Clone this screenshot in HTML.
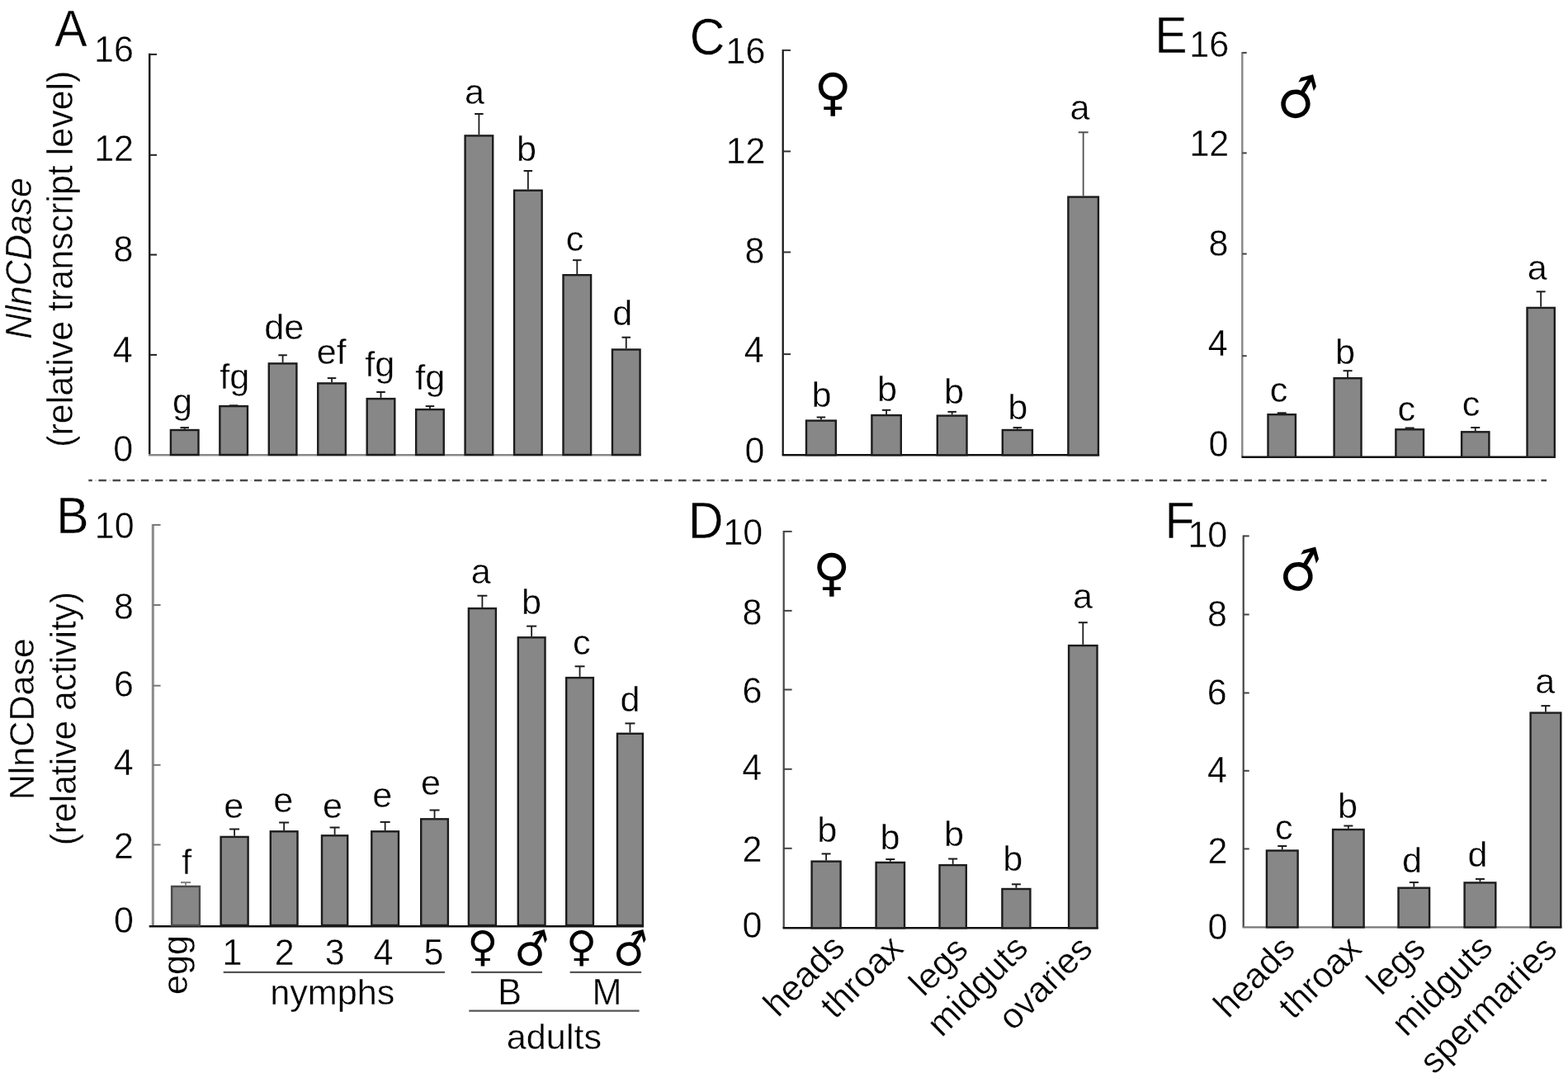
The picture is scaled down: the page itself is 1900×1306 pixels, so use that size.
<!DOCTYPE html>
<html><head><meta charset="utf-8"><title>NlnCDase expression and activity</title>
<style>
html,body{margin:0;padding:0;background:#fff;width:1900px;height:1306px;overflow:hidden}
svg{display:block}
#fig{width:1900px;height:1306px}
text{font-kerning:none;stroke:#fff;stroke-width:0.4px;stroke-linejoin:round}
</style></head><body>
<div id="fig"><svg width="1900" height="1306" viewBox="0 0 1900 1306">
<rect width="1900" height="1306" fill="#fff"/>
<line x1="181.2" y1="64.8" x2="181.2" y2="551.5" stroke="#111" stroke-width="2.4"/>
<line x1="181.2" y1="65.9" x2="190" y2="65.9" stroke="#222" stroke-width="2"/>
<line x1="181.2" y1="187.8" x2="190" y2="187.8" stroke="#222" stroke-width="2"/>
<line x1="181.2" y1="308.6" x2="190" y2="308.6" stroke="#222" stroke-width="2"/>
<line x1="181.2" y1="429.9" x2="190" y2="429.9" stroke="#222" stroke-width="2"/>
<line x1="180" y1="551.2" x2="777" y2="551.2" stroke="#888" stroke-width="2.4"/>
<rect x="206.90" y="521.00" width="33.60" height="30.00" fill="#878787" stroke="#1c1c1c" stroke-width="2.4"/>
<line x1="223.7" y1="519.8" x2="223.7" y2="518.1" stroke="#1c1c1c" stroke-width="1.8"/>
<line x1="218.45" y1="518.1" x2="228.95" y2="518.1" stroke="#1c1c1c" stroke-width="2"/>
<rect x="266.35" y="492.10" width="33.60" height="58.90" fill="#878787" stroke="#1c1c1c" stroke-width="2.4"/>
<line x1="283.15" y1="490.9" x2="283.15" y2="491.3" stroke="#1c1c1c" stroke-width="1.8"/>
<line x1="277.9" y1="491.3" x2="288.4" y2="491.3" stroke="#1c1c1c" stroke-width="2"/>
<rect x="325.80" y="440.40" width="33.60" height="110.60" fill="#878787" stroke="#1c1c1c" stroke-width="2.4"/>
<line x1="342.6" y1="439.2" x2="342.6" y2="430.3" stroke="#1c1c1c" stroke-width="1.8"/>
<line x1="337.35" y1="430.3" x2="347.85" y2="430.3" stroke="#1c1c1c" stroke-width="2"/>
<rect x="385.25" y="464.40" width="33.60" height="86.60" fill="#878787" stroke="#1c1c1c" stroke-width="2.4"/>
<line x1="402.05" y1="463.2" x2="402.05" y2="458.1" stroke="#1c1c1c" stroke-width="1.8"/>
<line x1="396.8" y1="458.1" x2="407.3" y2="458.1" stroke="#1c1c1c" stroke-width="2"/>
<rect x="444.70" y="483.10" width="33.60" height="67.90" fill="#878787" stroke="#1c1c1c" stroke-width="2.4"/>
<line x1="461.5" y1="481.9" x2="461.5" y2="475" stroke="#1c1c1c" stroke-width="1.8"/>
<line x1="456.25" y1="475" x2="466.75" y2="475" stroke="#1c1c1c" stroke-width="2"/>
<rect x="504.15" y="496.10" width="33.60" height="54.90" fill="#878787" stroke="#1c1c1c" stroke-width="2.4"/>
<line x1="520.95" y1="494.9" x2="520.95" y2="492.1" stroke="#1c1c1c" stroke-width="1.8"/>
<line x1="515.7" y1="492.1" x2="526.2" y2="492.1" stroke="#1c1c1c" stroke-width="2"/>
<rect x="563.60" y="164.40" width="33.60" height="386.60" fill="#878787" stroke="#1c1c1c" stroke-width="2.4"/>
<line x1="580.4" y1="163.2" x2="580.4" y2="138" stroke="#1c1c1c" stroke-width="1.8"/>
<line x1="575.15" y1="138" x2="585.65" y2="138" stroke="#1c1c1c" stroke-width="2"/>
<rect x="623.05" y="230.70" width="33.60" height="320.30" fill="#878787" stroke="#1c1c1c" stroke-width="2.4"/>
<line x1="639.85" y1="229.5" x2="639.85" y2="207" stroke="#1c1c1c" stroke-width="1.8"/>
<line x1="634.6" y1="207" x2="645.1" y2="207" stroke="#1c1c1c" stroke-width="2"/>
<rect x="682.50" y="333.20" width="33.60" height="217.80" fill="#878787" stroke="#1c1c1c" stroke-width="2.4"/>
<line x1="699.3" y1="332" x2="699.3" y2="315.2" stroke="#1c1c1c" stroke-width="1.8"/>
<line x1="694.05" y1="315.2" x2="704.55" y2="315.2" stroke="#1c1c1c" stroke-width="2"/>
<rect x="741.95" y="423.50" width="33.60" height="127.50" fill="#878787" stroke="#1c1c1c" stroke-width="2.4"/>
<line x1="758.75" y1="422.3" x2="758.75" y2="408.7" stroke="#1c1c1c" stroke-width="1.8"/>
<line x1="753.5" y1="408.7" x2="764" y2="408.7" stroke="#1c1c1c" stroke-width="2"/>
<text transform="translate(114.04,74.99) scale(1,1.05)" font-family="'Liberation Sans', Arial, sans-serif" font-size="43" fill="#000">16</text>
<text transform="translate(114.18,195.36) scale(1,1.05)" font-family="'Liberation Sans', Arial, sans-serif" font-size="43" fill="#000">12</text>
<text transform="translate(137.44,316.79) scale(1,1.05)" font-family="'Liberation Sans', Arial, sans-serif" font-size="43" fill="#000">8</text>
<text transform="translate(136.83,439.23) scale(1,1.05)" font-family="'Liberation Sans', Arial, sans-serif" font-size="43" fill="#000">4</text>
<text transform="translate(137.19,559.09) scale(1,1.05)" font-family="'Liberation Sans', Arial, sans-serif" font-size="43" fill="#000">0</text>
<text transform="translate(66.27,55.86) scale(1,1.065)" font-family="'Liberation Sans', Arial, sans-serif" font-size="59" fill="#000">A</text>
<text transform="translate(37.83,410.84) rotate(-90) scale(1,1.03)" font-family="'Liberation Sans', Arial, sans-serif" font-size="43" font-style="italic" fill="#000">NlnCDase</text>
<text transform="translate(88.30,541.76) rotate(-90) scale(1,1.03)" font-family="'Liberation Sans', Arial, sans-serif" font-size="43" fill="#000">(relative transcript level)</text>
<text transform="translate(209.12,501.01)" font-family="'Liberation Sans', Arial, sans-serif" font-size="43.2" fill="#000">g</text>
<text transform="translate(266.37,471.45)" font-family="'Liberation Sans', Arial, sans-serif" font-size="43.2" fill="#000">fg</text>
<text transform="translate(320.33,411.19)" font-family="'Liberation Sans', Arial, sans-serif" font-size="43.2" fill="#000">de</text>
<text transform="translate(383.79,441.22)" font-family="'Liberation Sans', Arial, sans-serif" font-size="43.2" fill="#000">ef</text>
<text transform="translate(442.27,455.80)" font-family="'Liberation Sans', Arial, sans-serif" font-size="43.2" fill="#000">fg</text>
<text transform="translate(503.27,471.90)" font-family="'Liberation Sans', Arial, sans-serif" font-size="43.2" fill="#000">fg</text>
<text transform="translate(563.07,125.56)" font-family="'Liberation Sans', Arial, sans-serif" font-size="43.2" fill="#000">a</text>
<text transform="translate(625.90,194.79)" font-family="'Liberation Sans', Arial, sans-serif" font-size="43.2" fill="#000">b</text>
<text transform="translate(685.75,303.66)" font-family="'Liberation Sans', Arial, sans-serif" font-size="43.2" fill="#000">c</text>
<text transform="translate(742.32,394.44)" font-family="'Liberation Sans', Arial, sans-serif" font-size="43.2" fill="#000">d</text>
<line x1="185.3" y1="634.9" x2="185.3" y2="1121" stroke="#8a8a8a" stroke-width="3"/>
<line x1="185.3" y1="635.9" x2="194.6" y2="635.9" stroke="#777" stroke-width="2"/>
<line x1="185.3" y1="733" x2="194.6" y2="733" stroke="#777" stroke-width="2"/>
<line x1="185.3" y1="830.7" x2="194.6" y2="830.7" stroke="#777" stroke-width="2"/>
<line x1="185.3" y1="926.8" x2="194.6" y2="926.8" stroke="#777" stroke-width="2"/>
<line x1="185.3" y1="1023.4" x2="194.6" y2="1023.4" stroke="#777" stroke-width="2"/>
<line x1="180.7" y1="1122.3" x2="780.1" y2="1122.3" stroke="#111" stroke-width="2.4"/>
<rect x="208.10" y="1073.90" width="33.80" height="47.10" fill="#878787" stroke="#4a4a4a" stroke-width="2.4"/>
<line x1="225" y1="1072.7" x2="225" y2="1069.1" stroke="#808080" stroke-width="1.8"/>
<line x1="219" y1="1069.1" x2="231" y2="1069.1" stroke="#808080" stroke-width="2"/>
<rect x="267.60" y="1013.90" width="33.00" height="107.10" fill="#878787" stroke="#1c1c1c" stroke-width="2.4"/>
<line x1="284.1" y1="1012.7" x2="284.1" y2="1004.5" stroke="#1c1c1c" stroke-width="1.8"/>
<line x1="278.1" y1="1004.5" x2="290.1" y2="1004.5" stroke="#1c1c1c" stroke-width="2"/>
<rect x="327.80" y="1007.30" width="32.70" height="113.70" fill="#878787" stroke="#1c1c1c" stroke-width="2.4"/>
<line x1="344.15" y1="1006.1" x2="344.15" y2="996.5" stroke="#1c1c1c" stroke-width="1.8"/>
<line x1="338.15" y1="996.5" x2="350.15" y2="996.5" stroke="#1c1c1c" stroke-width="2"/>
<rect x="390.00" y="1012.30" width="31.20" height="108.70" fill="#878787" stroke="#1c1c1c" stroke-width="2.4"/>
<line x1="405.6" y1="1011.1" x2="405.6" y2="1002.5" stroke="#1c1c1c" stroke-width="1.8"/>
<line x1="399.6" y1="1002.5" x2="411.6" y2="1002.5" stroke="#1c1c1c" stroke-width="2"/>
<rect x="450.30" y="1007.30" width="32.70" height="113.70" fill="#878787" stroke="#1c1c1c" stroke-width="2.4"/>
<line x1="466.65" y1="1006.1" x2="466.65" y2="995.9" stroke="#1c1c1c" stroke-width="1.8"/>
<line x1="460.65" y1="995.9" x2="472.65" y2="995.9" stroke="#1c1c1c" stroke-width="2"/>
<rect x="510.20" y="992.30" width="32.70" height="128.70" fill="#878787" stroke="#1c1c1c" stroke-width="2.4"/>
<line x1="526.55" y1="991.1" x2="526.55" y2="981.5" stroke="#1c1c1c" stroke-width="1.8"/>
<line x1="520.55" y1="981.5" x2="532.55" y2="981.5" stroke="#1c1c1c" stroke-width="2"/>
<rect x="567.90" y="737.10" width="33.00" height="383.90" fill="#878787" stroke="#1c1c1c" stroke-width="2.4"/>
<line x1="584.4" y1="735.9" x2="584.4" y2="721.7" stroke="#1c1c1c" stroke-width="1.8"/>
<line x1="578.4" y1="721.7" x2="590.4" y2="721.7" stroke="#1c1c1c" stroke-width="2"/>
<rect x="627.80" y="772.30" width="32.70" height="348.70" fill="#878787" stroke="#1c1c1c" stroke-width="2.4"/>
<line x1="644.15" y1="771.1" x2="644.15" y2="758.6" stroke="#1c1c1c" stroke-width="1.8"/>
<line x1="638.15" y1="758.6" x2="650.15" y2="758.6" stroke="#1c1c1c" stroke-width="2"/>
<rect x="686.20" y="821.10" width="32.70" height="299.90" fill="#878787" stroke="#1c1c1c" stroke-width="2.4"/>
<line x1="702.55" y1="819.9" x2="702.55" y2="807.3" stroke="#1c1c1c" stroke-width="1.8"/>
<line x1="696.55" y1="807.3" x2="708.55" y2="807.3" stroke="#1c1c1c" stroke-width="2"/>
<rect x="748.00" y="888.80" width="30.90" height="232.20" fill="#878787" stroke="#1c1c1c" stroke-width="2.4"/>
<line x1="763.45" y1="887.6" x2="763.45" y2="876.4" stroke="#1c1c1c" stroke-width="1.8"/>
<line x1="757.45" y1="876.4" x2="769.45" y2="876.4" stroke="#1c1c1c" stroke-width="2"/>
<text transform="translate(114.84,651.59) scale(1,1.05)" font-family="'Liberation Sans', Arial, sans-serif" font-size="43" fill="#000">10</text>
<text transform="translate(138.04,750.19) scale(1,1.05)" font-family="'Liberation Sans', Arial, sans-serif" font-size="43" fill="#000">8</text>
<text transform="translate(137.90,843.89) scale(1,1.05)" font-family="'Liberation Sans', Arial, sans-serif" font-size="43" fill="#000">6</text>
<text transform="translate(137.68,939.18) scale(1,1.05)" font-family="'Liberation Sans', Arial, sans-serif" font-size="43" fill="#000">4</text>
<text transform="translate(138.04,1040.21) scale(1,1.05)" font-family="'Liberation Sans', Arial, sans-serif" font-size="43" fill="#000">2</text>
<text transform="translate(138.04,1129.89) scale(1,1.05)" font-family="'Liberation Sans', Arial, sans-serif" font-size="43" fill="#000">0</text>
<text transform="translate(68.31,645.56) scale(1,1.065)" font-family="'Liberation Sans', Arial, sans-serif" font-size="59" fill="#000">B</text>
<text transform="translate(40.90,969.32) rotate(-90)" font-family="'Liberation Sans', Arial, sans-serif" font-size="43.1" fill="#000">NlnCDase</text>
<text transform="translate(91.94,1024.36) rotate(-90) scale(1,1.025)" font-family="'Liberation Sans', Arial, sans-serif" font-size="42.6" fill="#000">(relative activity)</text>
<text transform="translate(220.16,1059.33)" font-family="'Liberation Sans', Arial, sans-serif" font-size="43.2" fill="#000">f</text>
<text transform="translate(271.23,990.61)" font-family="'Liberation Sans', Arial, sans-serif" font-size="43.2" fill="#000">e</text>
<text transform="translate(331.23,984.11)" font-family="'Liberation Sans', Arial, sans-serif" font-size="43.2" fill="#000">e</text>
<text transform="translate(391.03,990.61)" font-family="'Liberation Sans', Arial, sans-serif" font-size="43.2" fill="#000">e</text>
<text transform="translate(451.23,977.61)" font-family="'Liberation Sans', Arial, sans-serif" font-size="43.2" fill="#000">e</text>
<text transform="translate(510.03,962.61)" font-family="'Liberation Sans', Arial, sans-serif" font-size="43.2" fill="#000">e</text>
<text transform="translate(570.67,707.26)" font-family="'Liberation Sans', Arial, sans-serif" font-size="43.2" fill="#000">a</text>
<text transform="translate(632.05,743.84)" font-family="'Liberation Sans', Arial, sans-serif" font-size="43.2" fill="#000">b</text>
<text transform="translate(694.10,793.36)" font-family="'Liberation Sans', Arial, sans-serif" font-size="43.2" fill="#000">c</text>
<text transform="translate(751.62,861.89)" font-family="'Liberation Sans', Arial, sans-serif" font-size="43.2" fill="#000">d</text>
<text transform="translate(226.89,1205.06) rotate(-90)" font-family="'Liberation Sans', Arial, sans-serif" font-size="43.2" fill="#000">egg</text>
<text transform="translate(269.40,1168.88) scale(1,1.05)" font-family="'Liberation Sans', Arial, sans-serif" font-size="43" fill="#000">1</text>
<text transform="translate(332.84,1169.11) scale(1,1.05)" font-family="'Liberation Sans', Arial, sans-serif" font-size="43" fill="#000">2</text>
<text transform="translate(393.82,1168.89) scale(1,1.05)" font-family="'Liberation Sans', Arial, sans-serif" font-size="43" fill="#000">3</text>
<text transform="translate(452.58,1168.88) scale(1,1.05)" font-family="'Liberation Sans', Arial, sans-serif" font-size="43" fill="#000">4</text>
<text transform="translate(513.48,1168.66) scale(1,1.05)" font-family="'Liberation Sans', Arial, sans-serif" font-size="43" fill="#000">5</text>
<text transform="translate(566.21,1163.83)" font-family="'DejaVu Sans', sans-serif" font-size="50.7624" style="stroke:none" fill="#000">♀</text>
<text transform="translate(686.11,1163.83)" font-family="'DejaVu Sans', sans-serif" font-size="50.7624" style="stroke:none" fill="#000">♀</text>
<text transform="translate(627.25,1173.81) rotate(-15)" font-family="'DejaVu Sans', sans-serif" font-size="52.506" style="stroke:none" fill="#000">♂</text>
<text transform="translate(747.10,1173.81) rotate(-15)" font-family="'DejaVu Sans', sans-serif" font-size="52.506" style="stroke:none" fill="#000">♂</text>
<line x1="270.7" y1="1177.8" x2="539" y2="1177.8" stroke="#555" stroke-width="2.2"/>
<line x1="571" y1="1177.8" x2="657" y2="1177.8" stroke="#555" stroke-width="2.2"/>
<line x1="690.7" y1="1177.8" x2="777.2" y2="1177.8" stroke="#555" stroke-width="2.2"/>
<line x1="568.3" y1="1224.7" x2="774.6" y2="1224.7" stroke="#555" stroke-width="2.2"/>
<text transform="translate(327.21,1217.42)" font-family="'Liberation Sans', Arial, sans-serif" font-size="43.2" fill="#000">nymphs</text>
<text transform="translate(603.36,1217.10) scale(1,1.04)" font-family="'Liberation Sans', Arial, sans-serif" font-size="43.2" fill="#000">B</text>
<text transform="translate(717.51,1217.10) scale(1,1.04)" font-family="'Liberation Sans', Arial, sans-serif" font-size="43.2" fill="#000">M</text>
<text transform="translate(613.82,1270.74)" font-family="'Liberation Sans', Arial, sans-serif" font-size="43.2" fill="#000">adults</text>
<line x1="948.7" y1="59.9" x2="948.7" y2="551.5" stroke="#111" stroke-width="2.2"/>
<line x1="948.7" y1="60.9" x2="958" y2="60.9" stroke="#333" stroke-width="2"/>
<line x1="948.7" y1="183.4" x2="958" y2="183.4" stroke="#333" stroke-width="2"/>
<line x1="948.7" y1="305.5" x2="958" y2="305.5" stroke="#333" stroke-width="2"/>
<line x1="948.7" y1="429.1" x2="958" y2="429.1" stroke="#333" stroke-width="2"/>
<line x1="947.7" y1="551.3" x2="1332.1" y2="551.3" stroke="#111" stroke-width="2.4"/>
<rect x="977.00" y="509.60" width="35.80" height="41.70" fill="#878787" stroke="#1c1c1c" stroke-width="2.4"/>
<line x1="994.9" y1="508.4" x2="994.9" y2="505.5" stroke="#1c1c1c" stroke-width="1.8"/>
<line x1="989.65" y1="505.5" x2="1000.15" y2="505.5" stroke="#1c1c1c" stroke-width="2"/>
<rect x="1056.40" y="503.10" width="35.40" height="48.20" fill="#878787" stroke="#1c1c1c" stroke-width="2.4"/>
<line x1="1074.1" y1="501.9" x2="1074.1" y2="496.8" stroke="#1c1c1c" stroke-width="1.8"/>
<line x1="1068.85" y1="496.8" x2="1079.35" y2="496.8" stroke="#1c1c1c" stroke-width="2"/>
<rect x="1135.80" y="503.60" width="35.70" height="47.70" fill="#878787" stroke="#1c1c1c" stroke-width="2.4"/>
<line x1="1153.65" y1="502.4" x2="1153.65" y2="498.9" stroke="#1c1c1c" stroke-width="1.8"/>
<line x1="1148.4" y1="498.9" x2="1158.9" y2="498.9" stroke="#1c1c1c" stroke-width="2"/>
<rect x="1214.80" y="521.00" width="36.10" height="30.30" fill="#878787" stroke="#1c1c1c" stroke-width="2.4"/>
<line x1="1232.85" y1="519.8" x2="1232.85" y2="518.1" stroke="#1c1c1c" stroke-width="1.8"/>
<line x1="1227.6" y1="518.1" x2="1238.1" y2="518.1" stroke="#1c1c1c" stroke-width="2"/>
<rect x="1294.40" y="238.60" width="36.50" height="312.70" fill="#878787" stroke="#1c1c1c" stroke-width="2.4"/>
<line x1="1312.65" y1="237.4" x2="1312.65" y2="160.3" stroke="#505050" stroke-width="1.8"/>
<line x1="1306.65" y1="160.3" x2="1318.65" y2="160.3" stroke="#505050" stroke-width="2"/>
<text transform="translate(879.54,76.99) scale(1,1.05)" font-family="'Liberation Sans', Arial, sans-serif" font-size="43" fill="#000">16</text>
<text transform="translate(879.68,197.66) scale(1,1.05)" font-family="'Liberation Sans', Arial, sans-serif" font-size="43" fill="#000">12</text>
<text transform="translate(902.54,318.79) scale(1,1.05)" font-family="'Liberation Sans', Arial, sans-serif" font-size="43" fill="#000">8</text>
<text transform="translate(901.83,439.23) scale(1,1.05)" font-family="'Liberation Sans', Arial, sans-serif" font-size="43" fill="#000">4</text>
<text transform="translate(902.39,561.44) scale(1,1.05)" font-family="'Liberation Sans', Arial, sans-serif" font-size="43" fill="#000">0</text>
<text transform="translate(835.87,66.33) scale(1,1.065)" font-family="'Liberation Sans', Arial, sans-serif" font-size="59" fill="#000">C</text>
<text transform="translate(986.56,133.32)" font-family="'DejaVu Sans', sans-serif" font-size="61.9651" font-weight="bold" style="stroke:none" fill="#000">♀</text>
<text transform="translate(983.40,492.94)" font-family="'Liberation Sans', Arial, sans-serif" font-size="43.2" fill="#000">b</text>
<text transform="translate(1063.05,486.34)" font-family="'Liberation Sans', Arial, sans-serif" font-size="43.2" fill="#000">b</text>
<text transform="translate(1143.95,488.94)" font-family="'Liberation Sans', Arial, sans-serif" font-size="43.2" fill="#000">b</text>
<text transform="translate(1221.20,508.14)" font-family="'Liberation Sans', Arial, sans-serif" font-size="43.2" fill="#000">b</text>
<text transform="translate(1296.62,144.66)" font-family="'Liberation Sans', Arial, sans-serif" font-size="43.2" fill="#000">a</text>
<line x1="949.7" y1="642.9" x2="949.7" y2="1124" stroke="#444" stroke-width="2.2"/>
<line x1="949.7" y1="643.9" x2="959.6" y2="643.9" stroke="#444" stroke-width="2"/>
<line x1="949.7" y1="739.9" x2="959.6" y2="739.9" stroke="#444" stroke-width="2"/>
<line x1="949.7" y1="835.5" x2="959.6" y2="835.5" stroke="#444" stroke-width="2"/>
<line x1="949.7" y1="931.8" x2="959.6" y2="931.8" stroke="#444" stroke-width="2"/>
<line x1="949.7" y1="1027.8" x2="959.6" y2="1027.8" stroke="#444" stroke-width="2"/>
<line x1="948.5" y1="1124.3" x2="1330.7" y2="1124.3" stroke="#111" stroke-width="2.4"/>
<rect x="983.60" y="1043.60" width="35.00" height="80.70" fill="#878787" stroke="#1c1c1c" stroke-width="2.4"/>
<line x1="1001.1" y1="1042.4" x2="1001.1" y2="1034.4" stroke="#1c1c1c" stroke-width="1.8"/>
<line x1="995.6" y1="1034.4" x2="1006.6" y2="1034.4" stroke="#1c1c1c" stroke-width="2"/>
<rect x="1061.60" y="1044.90" width="34.40" height="79.40" fill="#878787" stroke="#1c1c1c" stroke-width="2.4"/>
<line x1="1078.8" y1="1043.7" x2="1078.8" y2="1041" stroke="#1c1c1c" stroke-width="1.8"/>
<line x1="1073.3" y1="1041" x2="1084.3" y2="1041" stroke="#1c1c1c" stroke-width="2"/>
<rect x="1138.50" y="1048.10" width="32.30" height="76.20" fill="#878787" stroke="#1c1c1c" stroke-width="2.4"/>
<line x1="1154.65" y1="1046.9" x2="1154.65" y2="1040.5" stroke="#1c1c1c" stroke-width="1.8"/>
<line x1="1149.15" y1="1040.5" x2="1160.15" y2="1040.5" stroke="#1c1c1c" stroke-width="2"/>
<rect x="1214.40" y="1077.00" width="34.00" height="47.30" fill="#878787" stroke="#1c1c1c" stroke-width="2.4"/>
<line x1="1231.4" y1="1075.8" x2="1231.4" y2="1071.3" stroke="#1c1c1c" stroke-width="1.8"/>
<line x1="1225.9" y1="1071.3" x2="1236.9" y2="1071.3" stroke="#1c1c1c" stroke-width="2"/>
<rect x="1295.10" y="782.10" width="34.40" height="342.20" fill="#878787" stroke="#1c1c1c" stroke-width="2.4"/>
<line x1="1312.3" y1="780.9" x2="1312.3" y2="754.2" stroke="#1c1c1c" stroke-width="1.8"/>
<line x1="1306.8" y1="754.2" x2="1317.8" y2="754.2" stroke="#1c1c1c" stroke-width="2"/>
<text transform="translate(876.39,659.89) scale(1,1.05)" font-family="'Liberation Sans', Arial, sans-serif" font-size="43" fill="#000">10</text>
<text transform="translate(899.59,756.99) scale(1,1.05)" font-family="'Liberation Sans', Arial, sans-serif" font-size="43" fill="#000">8</text>
<text transform="translate(899.45,851.64) scale(1,1.05)" font-family="'Liberation Sans', Arial, sans-serif" font-size="43" fill="#000">6</text>
<text transform="translate(899.23,945.13) scale(1,1.05)" font-family="'Liberation Sans', Arial, sans-serif" font-size="43" fill="#000">4</text>
<text transform="translate(899.39,1044.16) scale(1,1.05)" font-family="'Liberation Sans', Arial, sans-serif" font-size="43" fill="#000">2</text>
<text transform="translate(899.59,1136.09) scale(1,1.05)" font-family="'Liberation Sans', Arial, sans-serif" font-size="43" fill="#000">0</text>
<text transform="translate(834.09,651.96) scale(1,1.065)" font-family="'Liberation Sans', Arial, sans-serif" font-size="59" fill="#000">D</text>
<text transform="translate(984.95,714.74)" font-family="'DejaVu Sans', sans-serif" font-size="61.8484" font-weight="bold" style="stroke:none" fill="#000">♀</text>
<text transform="translate(990.25,1019.89)" font-family="'Liberation Sans', Arial, sans-serif" font-size="43.2" fill="#000">b</text>
<text transform="translate(1066.60,1029.09)" font-family="'Liberation Sans', Arial, sans-serif" font-size="43.2" fill="#000">b</text>
<text transform="translate(1143.95,1024.74)" font-family="'Liberation Sans', Arial, sans-serif" font-size="43.2" fill="#000">b</text>
<text transform="translate(1215.25,1054.74)" font-family="'Liberation Sans', Arial, sans-serif" font-size="43.2" fill="#000">b</text>
<text transform="translate(1300.12,737.46)" font-family="'Liberation Sans', Arial, sans-serif" font-size="43.2" fill="#000">a</text>
<text transform="translate(942.83,1233.80) rotate(-45)" font-family="'Liberation Sans', Arial, sans-serif" font-size="43.2" fill="#000">heads</text>
<text transform="translate(1011.78,1235.88) rotate(-45)" font-family="'Liberation Sans', Arial, sans-serif" font-size="43.2" fill="#000">throax</text>
<text transform="translate(1119.36,1208.77) rotate(-45)" font-family="'Liberation Sans', Arial, sans-serif" font-size="43.2" fill="#000">legs</text>
<text transform="translate(1141.12,1257.81) rotate(-45)" font-family="'Liberation Sans', Arial, sans-serif" font-size="43.2" fill="#000">midguts</text>
<text transform="translate(1227.49,1250.17) rotate(-45)" font-family="'Liberation Sans', Arial, sans-serif" font-size="43.2" fill="#000">ovaries</text>
<line x1="1505.3" y1="62.9" x2="1505.3" y2="553.8" stroke="#888" stroke-width="2.4"/>
<line x1="1505.3" y1="63.9" x2="1510.7" y2="63.9" stroke="#444" stroke-width="2"/>
<line x1="1505.3" y1="185.4" x2="1510.7" y2="185.4" stroke="#444" stroke-width="2"/>
<line x1="1505.3" y1="307.6" x2="1510.7" y2="307.6" stroke="#444" stroke-width="2"/>
<line x1="1505.3" y1="431.2" x2="1510.7" y2="431.2" stroke="#444" stroke-width="2"/>
<line x1="1504.5" y1="553.8" x2="1885" y2="553.8" stroke="#111" stroke-width="2.4"/>
<rect x="1536.50" y="502.20" width="33.40" height="51.60" fill="#878787" stroke="#1c1c1c" stroke-width="2.4"/>
<line x1="1553.2" y1="501" x2="1553.2" y2="500.3" stroke="#1c1c1c" stroke-width="1.8"/>
<line x1="1547.7" y1="500.3" x2="1558.7" y2="500.3" stroke="#1c1c1c" stroke-width="2"/>
<rect x="1616.60" y="458.20" width="32.90" height="95.60" fill="#878787" stroke="#1c1c1c" stroke-width="2.4"/>
<line x1="1633.05" y1="457" x2="1633.05" y2="449.2" stroke="#1c1c1c" stroke-width="1.8"/>
<line x1="1627.55" y1="449.2" x2="1638.55" y2="449.2" stroke="#1c1c1c" stroke-width="2"/>
<rect x="1691.40" y="520.30" width="33.60" height="33.50" fill="#878787" stroke="#1c1c1c" stroke-width="2.4"/>
<line x1="1708.2" y1="519.1" x2="1708.2" y2="518.5" stroke="#1c1c1c" stroke-width="1.8"/>
<line x1="1702.7" y1="518.5" x2="1713.7" y2="518.5" stroke="#1c1c1c" stroke-width="2"/>
<rect x="1771.10" y="523.30" width="33.30" height="30.50" fill="#878787" stroke="#1c1c1c" stroke-width="2.4"/>
<line x1="1787.75" y1="522.1" x2="1787.75" y2="518" stroke="#1c1c1c" stroke-width="1.8"/>
<line x1="1782.25" y1="518" x2="1793.25" y2="518" stroke="#1c1c1c" stroke-width="2"/>
<rect x="1850.50" y="372.90" width="33.30" height="180.90" fill="#878787" stroke="#1c1c1c" stroke-width="2.4"/>
<line x1="1867.15" y1="371.7" x2="1867.15" y2="353.3" stroke="#1c1c1c" stroke-width="1.8"/>
<line x1="1861.65" y1="353.3" x2="1872.65" y2="353.3" stroke="#1c1c1c" stroke-width="2"/>
<text transform="translate(1441.24,68.74) scale(1,1.05)" font-family="'Liberation Sans', Arial, sans-serif" font-size="43" fill="#000">16</text>
<text transform="translate(1441.38,189.01) scale(1,1.05)" font-family="'Liberation Sans', Arial, sans-serif" font-size="43" fill="#000">12</text>
<text transform="translate(1464.49,310.24) scale(1,1.05)" font-family="'Liberation Sans', Arial, sans-serif" font-size="43" fill="#000">8</text>
<text transform="translate(1463.78,430.83) scale(1,1.05)" font-family="'Liberation Sans', Arial, sans-serif" font-size="43" fill="#000">4</text>
<text transform="translate(1464.49,552.89) scale(1,1.05)" font-family="'Liberation Sans', Arial, sans-serif" font-size="43" fill="#000">0</text>
<text transform="translate(1399.22,64.11) scale(1,1.065)" font-family="'Liberation Sans', Arial, sans-serif" font-size="59" fill="#000">E</text>
<text transform="translate(1552.15,147.55) rotate(-15)" font-family="'DejaVu Sans', sans-serif" font-size="62.9771" font-weight="bold" style="stroke:none" fill="#000">♂</text>
<text transform="translate(1538.75,486.66)" font-family="'Liberation Sans', Arial, sans-serif" font-size="43.2" fill="#000">c</text>
<text transform="translate(1618.05,441.34)" font-family="'Liberation Sans', Arial, sans-serif" font-size="43.2" fill="#000">b</text>
<text transform="translate(1693.60,510.06)" font-family="'Liberation Sans', Arial, sans-serif" font-size="43.2" fill="#000">c</text>
<text transform="translate(1771.75,503.61)" font-family="'Liberation Sans', Arial, sans-serif" font-size="43.2" fill="#000">c</text>
<text transform="translate(1850.87,338.91)" font-family="'Liberation Sans', Arial, sans-serif" font-size="43.2" fill="#000">a</text>
<line x1="1506.7" y1="648.4" x2="1506.7" y2="1123.4" stroke="#444" stroke-width="2.2"/>
<line x1="1506.7" y1="649.4" x2="1513.7" y2="649.4" stroke="#444" stroke-width="2"/>
<line x1="1506.7" y1="744.5" x2="1513.7" y2="744.5" stroke="#444" stroke-width="2"/>
<line x1="1506.7" y1="839.5" x2="1513.7" y2="839.5" stroke="#444" stroke-width="2"/>
<line x1="1506.7" y1="933.8" x2="1513.7" y2="933.8" stroke="#444" stroke-width="2"/>
<line x1="1506.7" y1="1028.4" x2="1513.7" y2="1028.4" stroke="#444" stroke-width="2"/>
<line x1="1505.6" y1="1123.4" x2="1892.5" y2="1123.4" stroke="#777" stroke-width="2.4"/>
<rect x="1534.90" y="1030.50" width="37.70" height="92.90" fill="#878787" stroke="#1c1c1c" stroke-width="2.4"/>
<line x1="1553.75" y1="1029.3" x2="1553.75" y2="1025" stroke="#1c1c1c" stroke-width="1.8"/>
<line x1="1548.25" y1="1025" x2="1559.25" y2="1025" stroke="#1c1c1c" stroke-width="2"/>
<rect x="1615.10" y="1005.00" width="37.50" height="118.40" fill="#878787" stroke="#1c1c1c" stroke-width="2.4"/>
<line x1="1633.85" y1="1003.8" x2="1633.85" y2="1000.5" stroke="#1c1c1c" stroke-width="1.8"/>
<line x1="1628.35" y1="1000.5" x2="1639.35" y2="1000.5" stroke="#1c1c1c" stroke-width="2"/>
<rect x="1694.50" y="1075.70" width="37.60" height="47.70" fill="#878787" stroke="#1c1c1c" stroke-width="2.4"/>
<line x1="1713.3" y1="1074.5" x2="1713.3" y2="1069" stroke="#1c1c1c" stroke-width="1.8"/>
<line x1="1707.8" y1="1069" x2="1718.8" y2="1069" stroke="#1c1c1c" stroke-width="2"/>
<rect x="1774.60" y="1069.40" width="37.70" height="54.00" fill="#878787" stroke="#1c1c1c" stroke-width="2.4"/>
<line x1="1793.45" y1="1068.2" x2="1793.45" y2="1064.9" stroke="#1c1c1c" stroke-width="1.8"/>
<line x1="1787.95" y1="1064.9" x2="1798.95" y2="1064.9" stroke="#1c1c1c" stroke-width="2"/>
<rect x="1854.60" y="863.60" width="36.70" height="259.80" fill="#878787" stroke="#1c1c1c" stroke-width="2.4"/>
<line x1="1872.95" y1="862.4" x2="1872.95" y2="855.1" stroke="#1c1c1c" stroke-width="1.8"/>
<line x1="1867.45" y1="855.1" x2="1878.45" y2="855.1" stroke="#1c1c1c" stroke-width="2"/>
<text transform="translate(1439.44,662.69) scale(1,1.05)" font-family="'Liberation Sans', Arial, sans-serif" font-size="43" fill="#000">10</text>
<text transform="translate(1462.89,758.99) scale(1,1.05)" font-family="'Liberation Sans', Arial, sans-serif" font-size="43" fill="#000">8</text>
<text transform="translate(1462.75,853.59) scale(1,1.05)" font-family="'Liberation Sans', Arial, sans-serif" font-size="43" fill="#000">6</text>
<text transform="translate(1463.03,947.53) scale(1,1.05)" font-family="'Liberation Sans', Arial, sans-serif" font-size="43" fill="#000">4</text>
<text transform="translate(1463.39,1046.46) scale(1,1.05)" font-family="'Liberation Sans', Arial, sans-serif" font-size="43" fill="#000">2</text>
<text transform="translate(1463.39,1138.09) scale(1,1.05)" font-family="'Liberation Sans', Arial, sans-serif" font-size="43" fill="#000">0</text>
<text transform="translate(1411.39,651.96) scale(1,1.065)" font-family="'Liberation Sans', Arial, sans-serif" font-size="59" fill="#000">F</text>
<text transform="translate(1554.89,720.28) rotate(-15)" font-family="'DejaVu Sans', sans-serif" font-size="63.4524" font-weight="bold" style="stroke:none" fill="#000">♂</text>
<text transform="translate(1545.00,1016.56)" font-family="'Liberation Sans', Arial, sans-serif" font-size="43.2" fill="#000">c</text>
<text transform="translate(1621.00,990.94)" font-family="'Liberation Sans', Arial, sans-serif" font-size="43.2" fill="#000">b</text>
<text transform="translate(1699.02,1056.99)" font-family="'Liberation Sans', Arial, sans-serif" font-size="43.2" fill="#000">d</text>
<text transform="translate(1778.57,1050.29)" font-family="'Liberation Sans', Arial, sans-serif" font-size="43.2" fill="#000">d</text>
<text transform="translate(1860.37,840.31)" font-family="'Liberation Sans', Arial, sans-serif" font-size="43.2" fill="#000">a</text>
<text transform="translate(1488.28,1235.05) rotate(-45)" font-family="'Liberation Sans', Arial, sans-serif" font-size="43.2" fill="#000">heads</text>
<text transform="translate(1567.03,1236.53) rotate(-45)" font-family="'Liberation Sans', Arial, sans-serif" font-size="43.2" fill="#000">throax</text>
<text transform="translate(1673.86,1207.47) rotate(-45)" font-family="'Liberation Sans', Arial, sans-serif" font-size="43.2" fill="#000">legs</text>
<text transform="translate(1704.12,1257.16) rotate(-45)" font-family="'Liberation Sans', Arial, sans-serif" font-size="43.2" fill="#000">midguts</text>
<text transform="translate(1738.02,1303.01) rotate(-45)" font-family="'Liberation Sans', Arial, sans-serif" font-size="43.2" fill="#000">spermaries</text>
<line x1="107.3" y1="582" x2="1874" y2="582" stroke="#4a4a4a" stroke-width="2.6" stroke-dasharray="9.5 7.638" stroke-dashoffset="5.05"/>
<line x1="107.3" y1="582" x2="1874" y2="582" stroke="#dedede" stroke-width="2" stroke-dasharray="2 15.138" stroke-dashoffset="-7.7"/>
</svg></div>
</body></html>
